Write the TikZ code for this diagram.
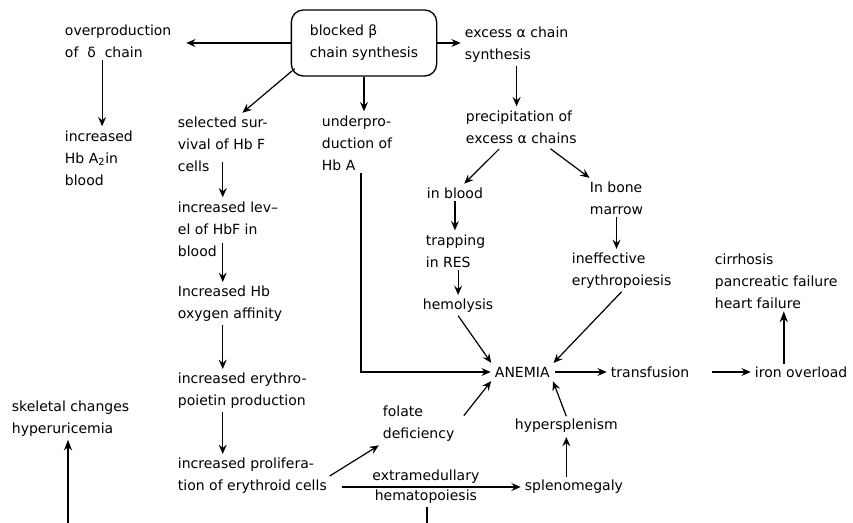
\documentclass[tikz,border=0pt]{standalone}
\usepackage{fontspec}
\setmainfont{DejaVu Sans}
\usetikzlibrary{arrows.meta}
\begin{document}
\begin{tikzpicture}[x=0.75pt,y=-0.75pt]
    \tikzstyle{txt}= [anchor=west,align=left,inner sep=2pt,font=\fontsize{10.5}{16.5}\selectfont]
    \tikzstyle{tok}= [line width=0.9pt,-{Stealth[length=7pt,width=6pt,inset=2.5pt]},shorten >= 1pt]
    \tikzstyle{tokT}= [line width=1.8pt,-{Stealth[length=8pt,width=6pt,inset=2.5pt]}]
  \def\colx{survival.south}

  \useasboundingbox (0,0) rectangle (853,523);

  % start
  \node[txt,draw,line width=1pt,rounded corners=9pt,minimum width=109pt,minimum height=49.5pt,
        anchor=center,inner xsep=5pt] (blocked) at (364,43) {blocked β\\chain synthesis};

  % left branch
  \node[txt] (overdelta) at (62,41) {overproduction\\of \ δ \ chain};
  \node[txt] (hbatwo) at (62,158) {increased\\Hb A\textsubscript{2}in\\blood};
  \node[txt] (survival) at (175,144) {selected sur-\\vival of Hb F\\cells};
  \node[txt] (levelhbf) at (175,229) {increased lev–\\el of HbF in\\blood};
  \node[txt] (affinity) at (175,304) {Increased Hb\\oxygen affinity};
  \node[txt] (epo) at (175,391) {increased erythro-\\poietin production};
  \node[txt] (prolif) at (175,476) {increased prolifera-\\tion of erythroid cells};
  \node[txt] (underhba) at (319,143) {underpro-\\duction of\\Hb A};

  % right branch
  \node[txt] (excessalpha) at (462,45) {excess α chain\\synthesis};
  \node[txt] (precip) at (463,127) {precipitation of\\excess α chains};
  \node[txt] (inblood) at (424,193) {in blood};
  \node[txt] (trapping) at (423,251) {trapping\\in RES};
  \node[txt] (hemolysis) at (420,306) {hemolysis};
  \node[txt] (bonemarrow) at (587,198) {In bone\\marrow};
  \node[txt] (ineffective) at (569,271) {ineffective\\erythropoiesis};

  % bottom
  \node[txt] (anemia) at (492,372) {ANEMIA};
  \node[txt] (transfusion) at (608,372) {transfusion};
  \node[txt] (ironover) at (752,372) {iron overload};
  \node[txt] (organfail) at (712,281) {cirrhosis\\pancreatic failure\\heart failure};
  \node[txt] (folate) at (380,424) {folate\\deficiency};
  \node[txt] (hypersplen) at (512,426) {hypersplenism};
  \node[txt] (spleno) at (522,487) {splenomegaly};
  \node[txt] (skeletal) at (9,419) {skeletal changes\\hyperuricemia};
  \coordinate (skelfoot) at (68,523);
  \coordinate (cutfoot) at (427,523);

  % connectors from the box
  \draw[tok,shorten >=9pt] (blocked.west) -- (blocked.west -| overdelta.east);
  \draw[tok] (blocked.east) -- (blocked.east -| excessalpha.west);
  \draw[tok] (blocked.south) -- (blocked.south |- underhba.north);
  \draw[tok] ([shift={(4,-8)}]blocked.south west) -- ([xshift=14pt]survival.north);
  \draw[tok] ([xshift=-12pt]overdelta.south) -- ([xshift=-12pt]overdelta.south |- hbatwo.north);

  \foreach \a/\b/\s in {survival/levelhbf/9,levelhbf/affinity/12,affinity/epo/0,epo/prolif/0}
    \draw[tok] ([yshift=\s pt]\colx |- \a.south) -- (\colx |- \b.north);

  \draw[tok] (excessalpha.south) -- (excessalpha.south |- precip.north);
  \draw[tok,shorten <=3pt] (precip) -- (inblood);
  \draw[tok,shorten <=3pt] (precip) -- (bonemarrow);
  \draw[tok] (inblood.south) -- (inblood.south |- trapping.north);
  \draw[tok] (hemolysis.north |- trapping.south) -- (hemolysis.north);
  \draw[tok] (bonemarrow.south) -- (bonemarrow.south |- ineffective.north);

  \draw[tok] (hemolysis.south) -- (anemia.north west);
  \draw[tok] (ineffective.south) -- (anemia.north east);
  \draw[tok] ([xshift=3pt]underhba.south) |- (anemia.west);
  \draw[tok,shorten <=2pt] (anemia.east) -- (transfusion.west);
  \draw[tok,shorten <=15pt] (transfusion.east) -- (ironover.west);
  \draw[tokT] ([xshift=-13pt]ironover.north) -- ([xshift=-13pt]ironover.north |- organfail.south);

  \draw[tok] (prolif.east) -- (folate.south west);
  \draw[tok,shorten <=8pt] (folate.east) -- (anemia.south west);
  \draw[tok,shorten <=9pt] (prolif.east |- spleno.west) -- node[txt,anchor=south] (extramed) {extramedullary}
        node[txt,anchor=north] (hemato) {hematopoiesis} (spleno.west);
  \draw[tok] (hypersplen.south |- spleno.north) -- (hypersplen.south);
  \draw[tok] (hypersplen.north) -- (anemia.south east);
  \draw[line width=0.9pt] (hemato.south -| cutfoot) -- (cutfoot);
  \draw[tokT] (skelfoot) -- (skelfoot |- skeletal.south);

\end{tikzpicture}
\end{document}
